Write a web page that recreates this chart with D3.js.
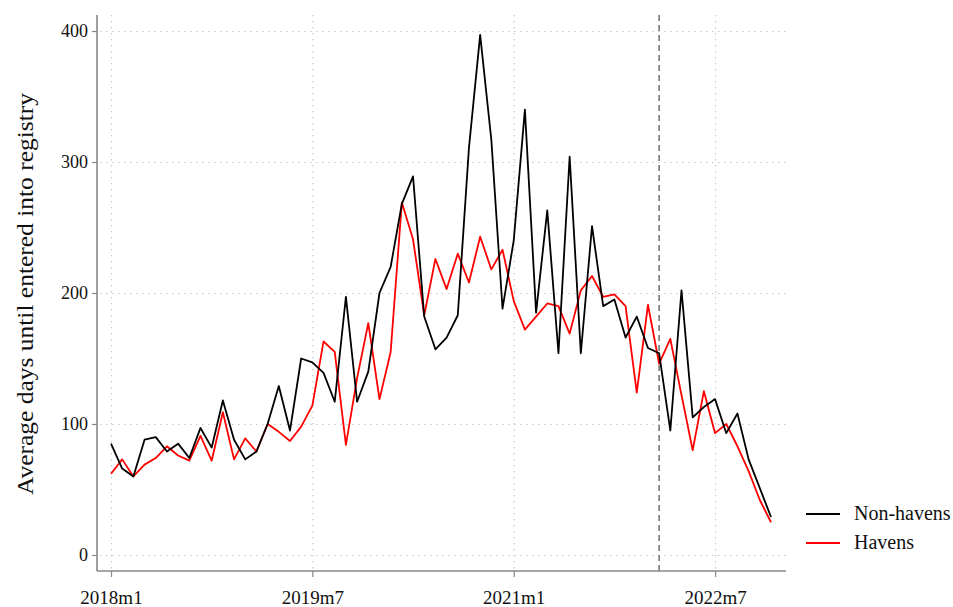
<!DOCTYPE html>
<html>
<head>
<script src="https://d3js.org/d3.v7.min.js"></script>
<style>
  body { margin: 0; padding: 0; background: #fff; overflow: hidden; }
  text { font-family: "Liberation Serif", "DejaVu Serif", serif; }
</style>
</head>
<body>
<script>
// months from 2018m1 to 2022m12, index 0..59
var months = d3.range(60).map(function (i) {
    return (2018 + Math.floor(i / 12)) + "m" + (i % 12 + 1);
});

var nonHavens = [85, 66, 60, 88, 90, 79, 85, 74, 97, 82,
    118, 88, 73, 79, 100, 129, 95, 150, 147, 139,
    117, 197, 117, 140, 200, 220, 268, 289, 182, 157,
    166, 183, 311, 397, 317, 188, 240, 340, 185, 263,
    154, 304, 154, 251, 190, 195, 166, 182, 158, 154,
    95, 202, 105, 113, 119, 93, 108, 73, 51, 29];

var havens = [62, 73, 60, 69, 74, 83, 76, 72, 91, 72,
    109, 73, 89, 79, 100, 94, 87, 98, 114, 163,
    155, 84, 135, 177, 119, 155, 269, 241, 183, 226,
    203, 230, 208, 243, 218, 233, 194, 172, 182, 192,
    190, 169, 202, 213, 197, 199, 190, 124, 191, 146,
    165, 122, 80, 125, 93, 100, 83, 64, 42, 25];

var yTicks = [0, 100, 200, 300, 400];
var xTicks = ["2018m1", "2019m7", "2021m1", "2022m7"];
var cutoff = "2022m2";

var series = [
    { name: "Non-havens", values: nonHavens, color: "#000000" },
    { name: "Havens", values: havens, color: "#ff0000" }
];

var width = 953, height = 607;
var svg = d3.select("body").append("svg")
    .attr("width", width)
    .attr("height", height);

var pLeft = 97, pRight = 786, pTop = 15, pBottom = 571;

var x = d3.scaleLinear().domain([0, 59]).range([111, 771]);
var y = d3.scaleLinear().domain([0, 400]).range([555, 31]);

// grid
svg.append("g").selectAll("line").data(yTicks).enter().append("line")
    .attr("x1", pLeft + 3).attr("x2", pRight)
    .attr("y1", function (d) { return y(d) + 0.5; })
    .attr("y2", function (d) { return y(d) + 0.5; })
    .attr("stroke", "#c8c8c8").attr("stroke-width", 1.2)
    .attr("stroke-dasharray", "1.5,4.5");

svg.append("g").selectAll("line").data(xTicks).enter().append("line")
    .attr("x1", function (d) { return x(months.indexOf(d)) + 0.5; })
    .attr("x2", function (d) { return x(months.indexOf(d)) + 0.5; })
    .attr("y1", pTop).attr("y2", pBottom - 2)
    .attr("stroke", "#c8c8c8").attr("stroke-width", 1.2)
    .attr("stroke-dasharray", "1.5,4.5");

// cutoff line
svg.append("line")
    .attr("x1", x(months.indexOf(cutoff))).attr("x2", x(months.indexOf(cutoff)))
    .attr("y1", pTop).attr("y2", pBottom)
    .attr("stroke", "#777").attr("stroke-width", 1.6)
    .attr("stroke-dasharray", "6,4");

// axes
var yAxis = d3.axisLeft(y).tickValues(yTicks).tickSize(5).tickPadding(4);
var gy = svg.append("g").attr("transform", "translate(" + pLeft + ",0)").call(yAxis);
gy.select(".domain").remove();
svg.append("line").attr("x1", pLeft).attr("x2", pLeft).attr("y1", pTop).attr("y2", pBottom)
    .attr("stroke", "#888").attr("stroke-width", 1.6);
gy.selectAll(".tick line").attr("stroke", "#888").attr("stroke-width", 1.2);
gy.selectAll(".tick text").attr("font-size", 18).attr("fill", "#111")
    .attr("font-family", "Liberation Serif, serif");

var xAxis = d3.axisBottom(x)
    .tickValues(xTicks.map(function (d) { return months.indexOf(d); }))
    .tickFormat(function (d) { return months[d]; })
    .tickSize(6).tickPadding(14);
var gx = svg.append("g").attr("transform", "translate(0," + pBottom + ")").call(xAxis);
gx.select(".domain").remove();
svg.append("line").attr("x1", pLeft).attr("x2", pRight).attr("y1", pBottom).attr("y2", pBottom)
    .attr("stroke", "#888").attr("stroke-width", 1.6);
gx.selectAll(".tick line").attr("stroke", "#888").attr("stroke-width", 1.2);
gx.selectAll(".tick text").attr("font-size", 19).attr("fill", "#111")
    .attr("font-family", "Liberation Serif, serif");

// y label
svg.append("text")
    .attr("transform", "translate(33,294) rotate(-90)")
    .attr("text-anchor", "middle")
    .attr("font-size", 24)
    .attr("textLength", 402)
    .attr("lengthAdjust", "spacingAndGlyphs")
    .attr("fill", "#111")
    .text("Average days until entered into registry");

// lines
var line = d3.line()
    .x(function (d, i) { return x(i); })
    .y(function (d) { return y(d); });

svg.selectAll(".series").data(series.slice().reverse()).enter().append("path")
    .attr("d", function (d) { return line(d.values); })
    .attr("fill", "none")
    .attr("stroke", function (d) { return d.color; })
    .attr("stroke-width", 1.8)
    .attr("stroke-linejoin", "round");

// legend
var lg = svg.append("g").selectAll("g").data(series).enter().append("g")
    .attr("transform", function (d, i) { return "translate(806," + (514 + i * 29) + ")"; });
lg.append("line").attr("x1", 0).attr("x2", 34)
    .attr("stroke", function (d) { return d.color; }).attr("stroke-width", 1.8);
lg.append("text").attr("x", 48).attr("y", 6)
    .attr("font-size", 20).attr("fill", "#111")
    .text(function (d) { return d.name; });
</script>
</body>
</html>
